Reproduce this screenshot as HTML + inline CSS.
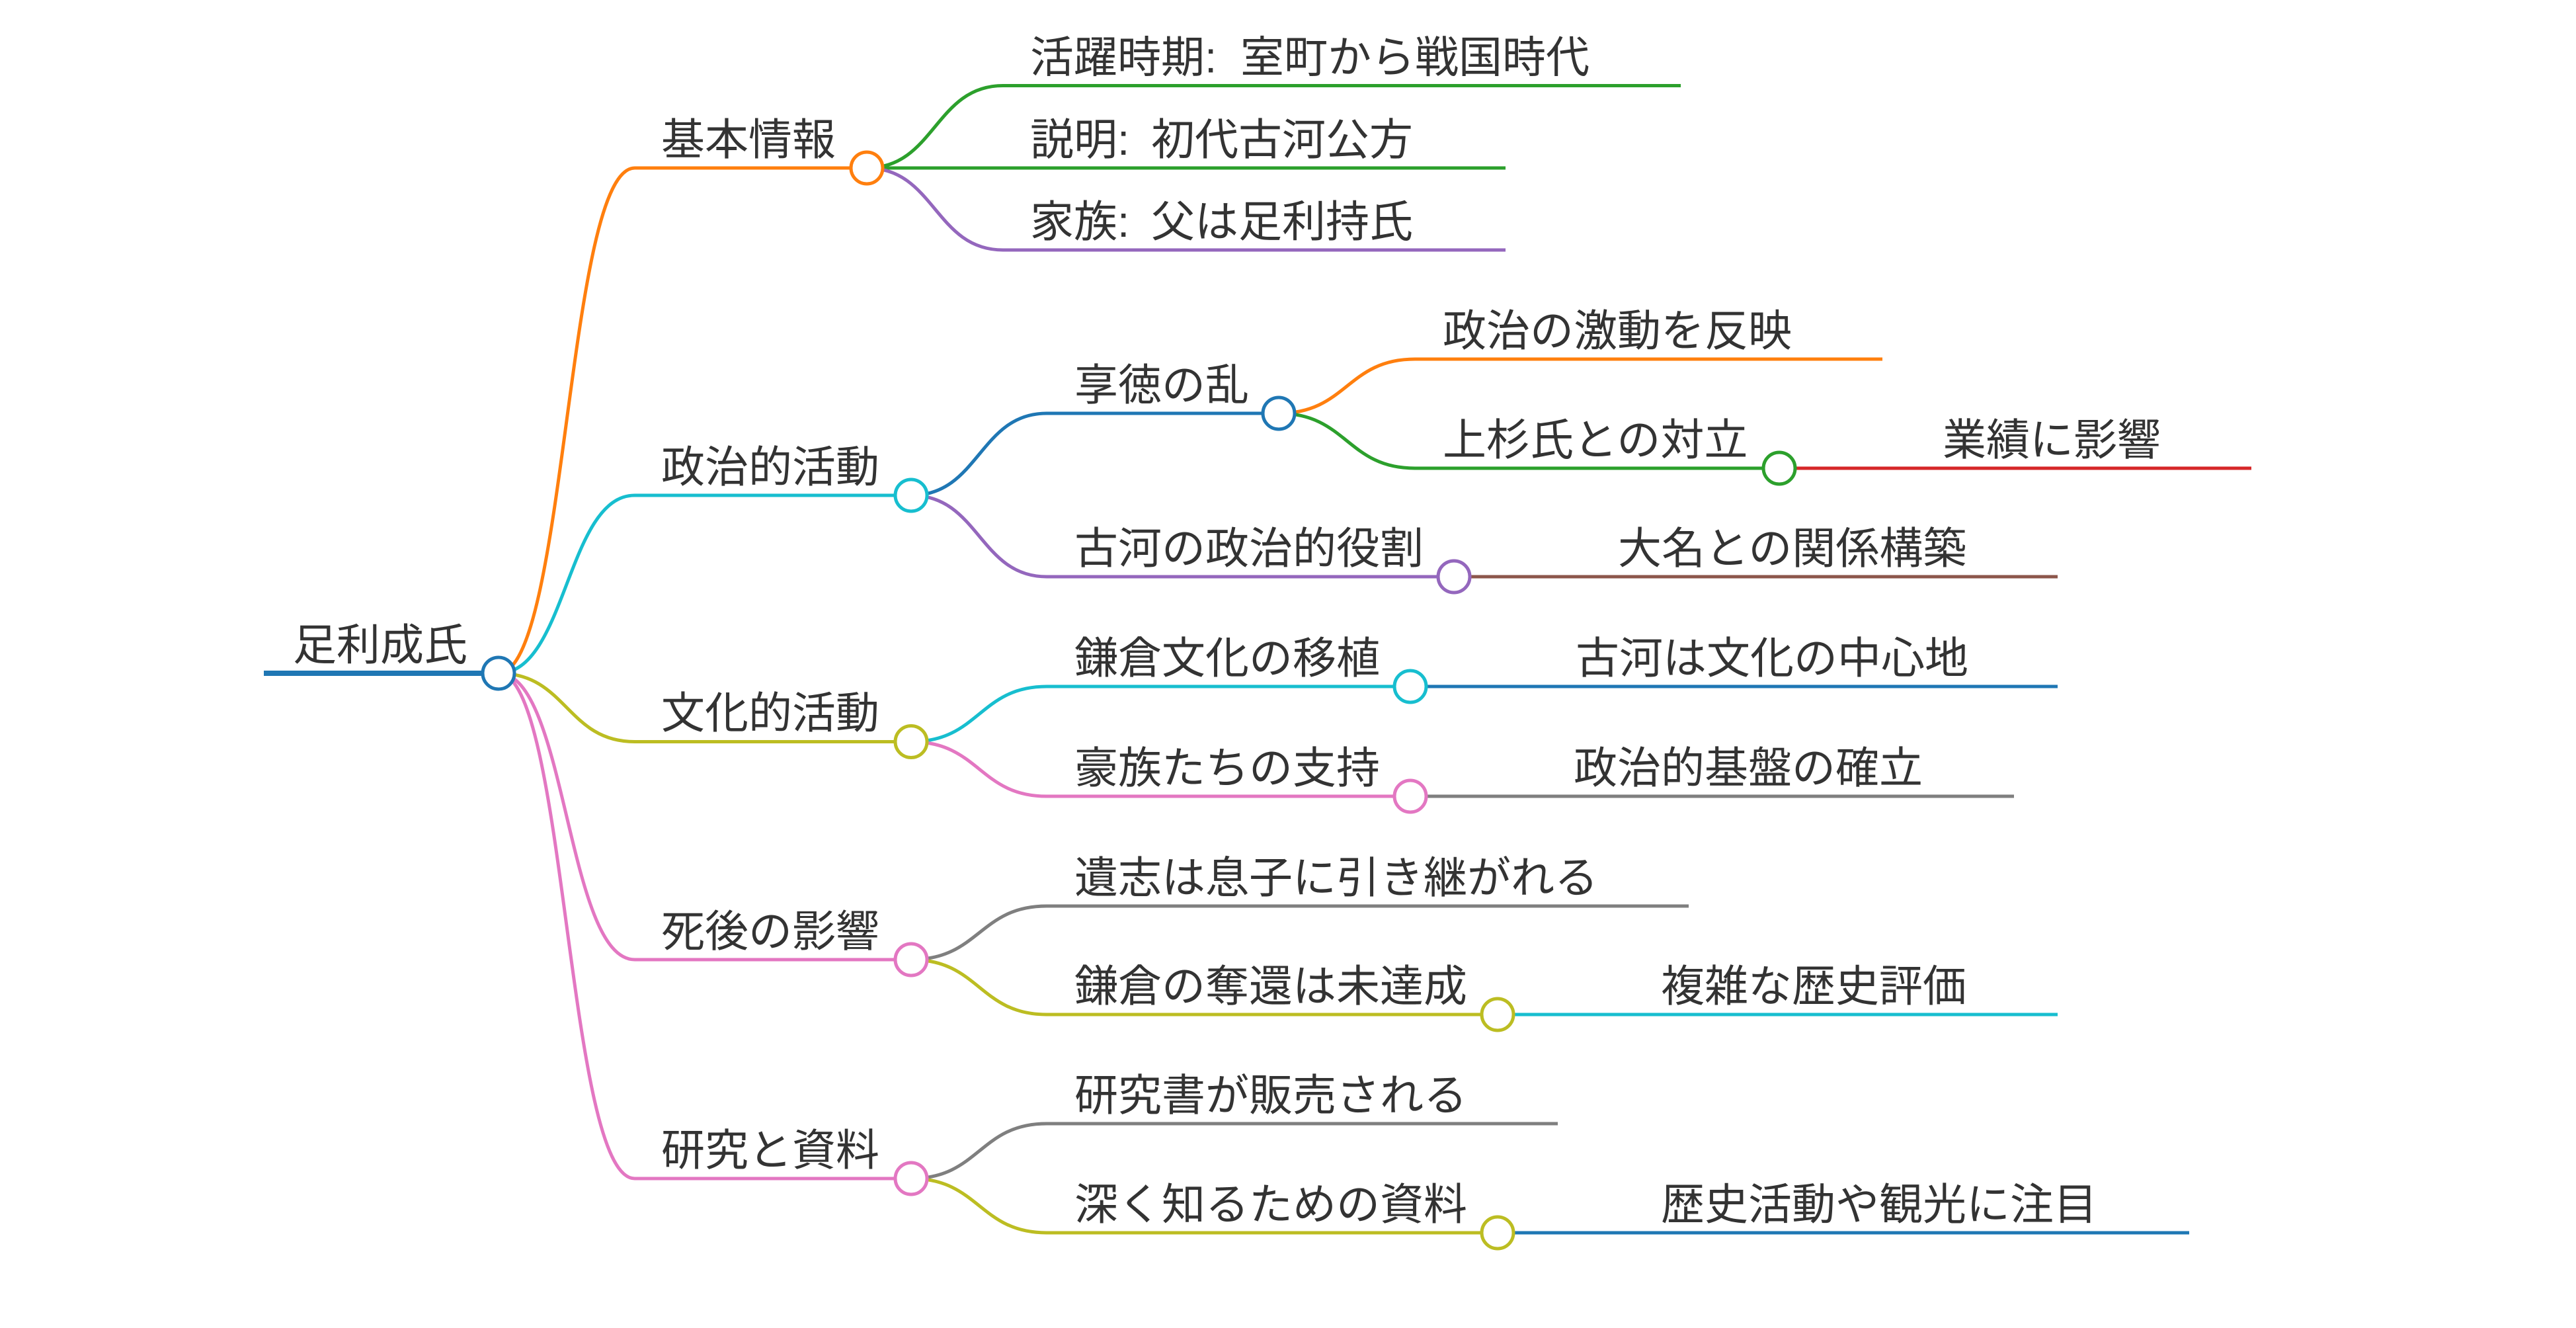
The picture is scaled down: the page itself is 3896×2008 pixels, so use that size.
<!DOCTYPE html>
<html>
<head>
<meta charset="utf-8">
<style>
html,body{margin:0;padding:0;background:#fff;}
svg{display:block;}
text{font-family:"Liberation Sans","Noto Sans CJK JP",sans-serif;font-size:66px;fill:#333;}
</style>
</head>
<body>
<svg width="3896" height="2008" viewBox="0 0 3896 2008" xmlns="http://www.w3.org/2000/svg">
<g fill="none" stroke-width="5" stroke-linecap="butt">
  <path d="M399 1018 H754" stroke="#1f77b4" stroke-width="8"/>
  <path d="M754 1018 C857 1018 857 254 960 254 H1311" stroke="#ff7f0e"/>
  <path d="M754 1018 C857 1018 857 749 960 749 H1378" stroke="#17becf"/>
  <path d="M754 1018 C857 1018 857 1121.5 960 1121.5 H1378" stroke="#bcbd22"/>
  <path d="M754 1018 C857 1018 857 1451 960 1451 H1378" stroke="#e377c2"/>
  <path d="M754 1018 C857 1018 857 1782 960 1782 H1378" stroke="#e377c2"/>

  <path d="M1311 254 C1414 254 1414 129.5 1517 129.5 H2542" stroke="#2ca02c"/>
  <path d="M1311 254 H2277" stroke="#2ca02c"/>
  <path d="M1311 254 C1414 254 1414 378 1517 378 H2277" stroke="#9467bd"/>

  <path d="M1378 749 C1481 749 1481 625 1583 625 H1934" stroke="#1f77b4"/>
  <path d="M1378 749 C1481 749 1481 872 1583 872 H2199" stroke="#9467bd"/>
  <path d="M1934 625 C2037 625 2037 543 2140 543 H2847" stroke="#ff7f0e"/>
  <path d="M1934 625 C2037 625 2037 708 2140 708 H2691" stroke="#2ca02c"/>
  <path d="M2691 708 H3405" stroke="#d62728"/>
  <path d="M2199 872 H3112" stroke="#8c564b"/>

  <path d="M1378 1121.5 C1481 1121.5 1481 1038 1583 1038 H2133" stroke="#17becf"/>
  <path d="M1378 1121.5 C1481 1121.5 1481 1204 1583 1204 H2133" stroke="#e377c2"/>
  <path d="M2133 1038 H3112" stroke="#1f77b4"/>
  <path d="M2133 1204 H3046" stroke="#7f7f7f"/>

  <path d="M1378 1451 C1481 1451 1481 1370 1583 1370 H2554" stroke="#7f7f7f"/>
  <path d="M1378 1451 C1481 1451 1481 1534 1583 1534 H2265" stroke="#bcbd22"/>
  <path d="M2265 1534 H3112" stroke="#17becf"/>

  <path d="M1378 1782 C1481 1782 1481 1699 1583 1699 H2356" stroke="#7f7f7f"/>
  <path d="M1378 1782 C1481 1782 1481 1864 1583 1864 H2265" stroke="#bcbd22"/>
  <path d="M2265 1864 H3311" stroke="#1f77b4"/>
</g>

<g fill="#fff" stroke-width="5">
  <circle cx="754" cy="1018" r="24" stroke="#1f77b4"/>
  <circle cx="1311" cy="254" r="24" stroke="#ff7f0e"/>
  <circle cx="1378" cy="749" r="24" stroke="#17becf"/>
  <circle cx="1378" cy="1121.5" r="24" stroke="#bcbd22"/>
  <circle cx="1378" cy="1451" r="24" stroke="#e377c2"/>
  <circle cx="1378" cy="1782" r="24" stroke="#e377c2"/>
  <circle cx="1934" cy="625" r="24" stroke="#1f77b4"/>
  <circle cx="2199" cy="872" r="24" stroke="#9467bd"/>
  <circle cx="2691" cy="708" r="24" stroke="#2ca02c"/>
  <circle cx="2133" cy="1038" r="24" stroke="#17becf"/>
  <circle cx="2133" cy="1204" r="24" stroke="#e377c2"/>
  <circle cx="2265" cy="1534" r="24" stroke="#bcbd22"/>
  <circle cx="2265" cy="1864" r="24" stroke="#bcbd22"/>
</g>

<g>
  <text x="443" y="998">足利成氏</text>

  <text x="1000" y="234">基本情報</text>
  <text x="1000" y="729">政治的活動</text>
  <text x="1000" y="1101">文化的活動</text>
  <text x="1000" y="1431">死後の影響</text>
  <text x="1000" y="1762">研究と資料</text>

  <text x="1558" y="109.5">活躍時期:<tspan x="1876">室町から戦国時代</tspan></text>
  <text x="1558" y="234">説明:<tspan x="1741">初代古河公方</tspan></text>
  <text x="1558" y="358">家族:<tspan x="1741">父は足利持氏</tspan></text>

  <text x="1625" y="605">享徳の乱</text>
  <text x="1625" y="852">古河の政治的役割</text>
  <text x="2182" y="523">政治の激動を反映</text>
  <text x="2182" y="688">上杉氏との対立</text>
  <text x="2938" y="688">業績に影響</text>
  <text x="2447" y="852">大名との関係構築</text>

  <text x="1625" y="1018">鎌倉文化の移植</text>
  <text x="1625" y="1184">豪族たちの支持</text>
  <text x="2383" y="1018">古河は文化の中心地</text>
  <text x="2380" y="1184">政治的基盤の確立</text>

  <text x="1625" y="1350">遺志は息子に引き継がれる</text>
  <text x="1625" y="1514">鎌倉の奪還は未達成</text>
  <text x="2512" y="1514">複雑な歴史評価</text>

  <text x="1625" y="1679">研究書が販売される</text>
  <text x="1625" y="1844">深く知るための資料</text>
  <text x="2512" y="1844">歴史活動や観光に注目</text>
</g>
</svg>
</body>
</html>
